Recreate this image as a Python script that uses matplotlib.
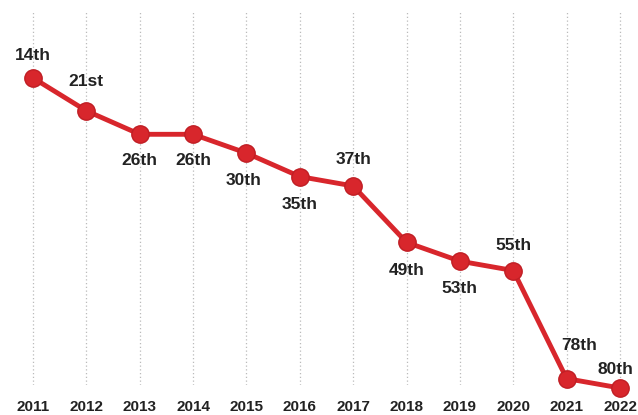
import matplotlib.pyplot as plt
import numpy as np

plt.rcParams["font.family"] = "Liberation Sans"

years = [2011, 2012, 2013, 2014, 2015, 2016, 2017, 2018, 2019, 2020, 2021, 2022]
ranks = [14, 21, 26, 26, 30, 35, 37, 49, 53, 55, 78, 80]
labels = ["14th", "21st", "26th", "26th", "30th", "35th", "37th",
          "49th", "53th", "55th", "78th", "80th"]

# label offsets in points (dx, dy), positive dy = above
offsets = [(0, 16), (0, 21), (0, -19), (0, -19), (-2, -20), (0, -20),
           (0, 19), (0, -20), (0, -20), (0, 18), (9, 24), (-3, 13)]

red = '#d8262c'

fig = plt.figure(figsize=(6.38, 4.15), dpi=100)
ax = fig.add_axes([0, 0.0723, 1, 0.899])

ax.plot(years, ranks, "-o", color=red, linewidth=3.5, markersize=12.5,
        markeredgecolor='#c01e24', markeredgewidth=1, clip_on=False, zorder=3)

for x, y, lab, (dx, dy) in zip(years, ranks, labels, offsets):
    ax.annotate(lab, (x, y), xytext=(dx, dy), textcoords='offset points',
                ha='center', va='center', fontsize=12.5, fontweight='bold',
                color='#222222', annotation_clip=False)

ax.set_xlim(2010.382, 2022.337)
ax.set_ylim(79.36, -0.05)
ax.set_xticks(years)
ax.set_xticklabels([str(y) for y in years], fontsize=11, fontweight='bold', color='#222222')
ax.set_yticks([])
ax.tick_params(axis='x', length=0, pad=11)
ax.grid(axis='x', linestyle=(0, (1, 2)), color='#bbbbbb', linewidth=0.9)
for s in ax.spines.values():
    s.set_visible(False)

plt.savefig("out.png", dpi=100)
